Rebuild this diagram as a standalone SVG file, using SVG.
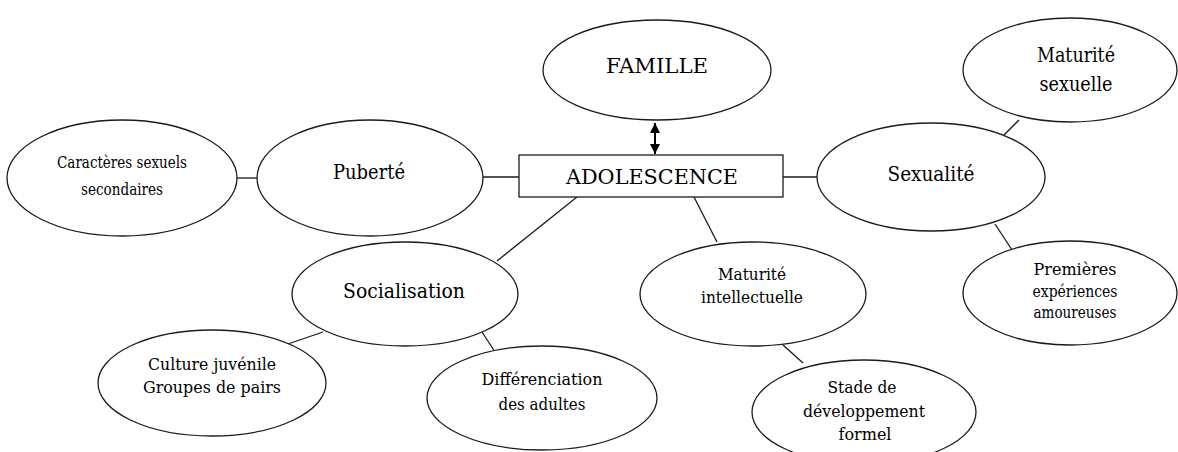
<svg xmlns="http://www.w3.org/2000/svg" width="1178" height="452" viewBox="0 0 1178 452">
<style>
.n{fill:#fff;stroke:#1a1a1a;stroke-width:1.3}
.c{stroke:#1a1a1a;stroke-width:1.3;fill:none}
.t{font-family:'DejaVu Serif','Liberation Serif',serif;fill:#000;text-anchor:middle}
.L{font-size:21px}
.M{font-size:17px}
.S{font-size:16px}
</style>
<defs>
<marker id="ah" viewBox="0 0 10 10" refX="10" refY="5" markerWidth="10" markerHeight="10" markerUnits="userSpaceOnUse" orient="auto-start-reverse">
<path d="M0,0 L10,5 L0,10 z" fill="#000"/>
</marker>
</defs>
<rect width="1178" height="452" fill="#fff"/>
<g id="connectors">
<line class="c" x1="237" y1="178" x2="257" y2="178"/>
<line class="c" x1="483" y1="177" x2="519" y2="177"/>
<line class="c" x1="783" y1="177" x2="817" y2="177"/>
<line class="c" x1="1004" y1="135" x2="1019" y2="120"/>
<line class="c" x1="995" y1="224" x2="1012" y2="250"/>
<line class="c" x1="577" y1="197" x2="497" y2="261"/>
<line class="c" x1="323" y1="332" x2="285" y2="345"/>
<line class="c" x1="482" y1="332" x2="497" y2="355"/>
<line class="c" x1="694" y1="197" x2="717" y2="242"/>
<line class="c" x1="783" y1="345" x2="803" y2="363"/>
<line x1="655" y1="123" x2="655" y2="154" stroke="#000" stroke-width="2" marker-start="url(#ah)" marker-end="url(#ah)"/>
</g>
<g id="famille">
<ellipse class="n" cx="657" cy="70" rx="114" ry="50"/>
<text class="t L" x="657" y="73" textLength="102" lengthAdjust="spacingAndGlyphs">FAMILLE</text>
</g>
<g id="adolescence">
<rect class="n" x="519" y="155" width="264" height="42"/>
<text class="t L" x="652" y="184" textLength="172" lengthAdjust="spacingAndGlyphs">ADOLESCENCE</text>
</g>
<g id="caracteres">
<ellipse class="n" cx="122" cy="178" rx="115" ry="58"/>
<text class="t S" x="122" y="168" textLength="130" lengthAdjust="spacingAndGlyphs">Caractères sexuels</text>
<text class="t S" x="122" y="195" textLength="82" lengthAdjust="spacingAndGlyphs">secondaires</text>
</g>
<g id="puberte">
<ellipse class="n" cx="370" cy="178" rx="113" ry="58"/>
<text class="t L" x="369" y="179" textLength="72" lengthAdjust="spacingAndGlyphs">Puberté</text>
</g>
<g id="sexualite">
<ellipse class="n" cx="931" cy="177" rx="114" ry="54"/>
<text class="t L" x="931" y="181" textLength="87" lengthAdjust="spacingAndGlyphs">Sexualité</text>
</g>
<g id="maturite-sexuelle">
<ellipse class="n" cx="1070" cy="70" rx="107" ry="52"/>
<text class="t L" x="1076" y="62" textLength="78" lengthAdjust="spacingAndGlyphs">Maturité</text>
<text class="t L" x="1076" y="91" textLength="73" lengthAdjust="spacingAndGlyphs">sexuelle</text>
</g>
<g id="premieres">
<ellipse class="n" cx="1070" cy="293" rx="107" ry="52"/>
<text class="t M" x="1075" y="275" textLength="83" lengthAdjust="spacingAndGlyphs">Premières</text>
<text class="t M" x="1075" y="297" textLength="85" lengthAdjust="spacingAndGlyphs">expériences</text>
<text class="t M" x="1075" y="318" textLength="83" lengthAdjust="spacingAndGlyphs">amoureuses</text>
</g>
<g id="socialisation">
<ellipse class="n" cx="405" cy="294" rx="113" ry="52"/>
<text class="t L" x="404" y="298" textLength="122" lengthAdjust="spacingAndGlyphs">Socialisation</text>
</g>
<g id="culture">
<ellipse class="n" cx="212" cy="383" rx="114" ry="53"/>
<text class="t M" x="212" y="370" textLength="128" lengthAdjust="spacingAndGlyphs">Culture juvénile</text>
<text class="t M" x="212" y="393" textLength="138" lengthAdjust="spacingAndGlyphs">Groupes de pairs</text>
</g>
<g id="differenciation">
<ellipse class="n" cx="542" cy="398" rx="115" ry="52"/>
<text class="t M" x="542" y="385" textLength="121" lengthAdjust="spacingAndGlyphs">Différenciation</text>
<text class="t M" x="542" y="410" textLength="87" lengthAdjust="spacingAndGlyphs">des adultes</text>
</g>
<g id="maturite-intellectuelle">
<ellipse class="n" cx="753" cy="294" rx="113" ry="52"/>
<text class="t M" x="752" y="280" textLength="68" lengthAdjust="spacingAndGlyphs">Maturité</text>
<text class="t M" x="752" y="303" textLength="102" lengthAdjust="spacingAndGlyphs">intellectuelle</text>
</g>
<g id="stade">
<ellipse class="n" cx="864" cy="412" rx="112" ry="52"/>
<text class="t M" x="862" y="393" textLength="69" lengthAdjust="spacingAndGlyphs">Stade de</text>
<text class="t M" x="864" y="417" textLength="122" lengthAdjust="spacingAndGlyphs">développement</text>
<text class="t M" x="865" y="440" textLength="53" lengthAdjust="spacingAndGlyphs">formel</text>
</g>
</svg>
